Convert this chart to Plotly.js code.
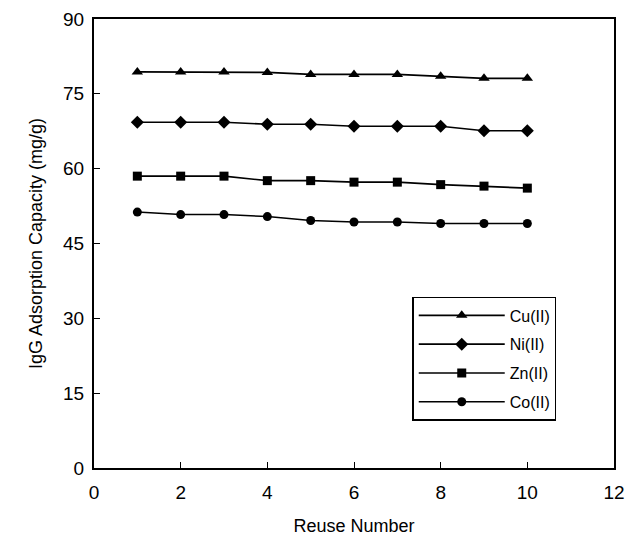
<!DOCTYPE html>
<html><head><meta charset="utf-8">
<script src="https://cdn.plot.ly/plotly-3.0.1.min.js"></script>
<style>body{margin:0;background:#fff}#c{width:627px;height:539px}</style>
</head><body><div id="c"></div>
<script>
const reuse = [1,2,3,4,5,6,7,8,9,10];
const cu = [79.4,79.4,79.4,79.3,78.9,78.9,78.9,78.5,78.1,78.1];
const ni = [69.3,69.3,69.3,68.9,68.9,68.5,68.5,68.5,67.6,67.6];
const zn = [58.5,58.5,58.5,57.6,57.6,57.3,57.3,56.8,56.5,56.1];
const co = [51.3,50.8,50.8,50.4,49.6,49.3,49.3,49.0,49.0,49.0];
const names = ['Cu(II)','Ni(II)','Zn(II)','Co(II)'];
const series = [cu,ni,zn,co];
const symbols = ['triangle-up','diamond','square','circle'];
const sizes = [10,10,9,9];

const traces = series.map((s,i)=>({
  x: reuse, y: s, name: names[i], type:'scatter', mode:'lines+markers',
  legendgroup: 'g'+i,
  line:{color:'#000',width:1.6},
  marker:{symbol:symbols[i],size:sizes[i],color:'#000'}
}));

const fam = 'Liberation Sans, Arial, sans-serif';
const tickfont = {family:fam, size:19, color:'#000'};
const titlefont = {family:fam, size:18, color:'#000'};
const layout = {
  width:627, height:539,
  margin:{l:94,r:13,t:19,b:71},
  paper_bgcolor:'#fff', plot_bgcolor:'#fff',
  font: tickfont,
  showlegend:true,
  legend:{x:0.612,y:0.381,xanchor:'left',yanchor:'top',
    bordercolor:'#000',borderwidth:1.5,bgcolor:'#fff',
    font:{family:fam,size:16,color:'#000'},
    traceorder:'grouped',tracegroupgap:5,itemwidth:86},
  xaxis:{range:[0,12],tickvals:[0,2,4,6,8,10,12],ticks:'inside',ticklen:6,
    tickcolor:'#000',tickfont:tickfont,showline:true,linecolor:'#000',linewidth:2,mirror:true,
    showgrid:false,zeroline:false,ticklabelstandoff:6,
    title:{text:'Reuse Number',font:titlefont,standoff:18}},
  yaxis:{range:[0,90],tickvals:[0,15,30,45,60,75,90],ticks:'inside',ticklen:6,
    tickcolor:'#000',tickfont:tickfont,showline:true,linecolor:'#000',linewidth:2,mirror:true,
    showgrid:false,zeroline:false,ticklabelstandoff:4,
    title:{text:'IgG Adsorption Capacity (mg/g)',font:titlefont,standoff:16}}
};
Plotly.newPlot('c',traces,layout,{displayModeBar:false,staticPlot:true});
</script></body></html>
